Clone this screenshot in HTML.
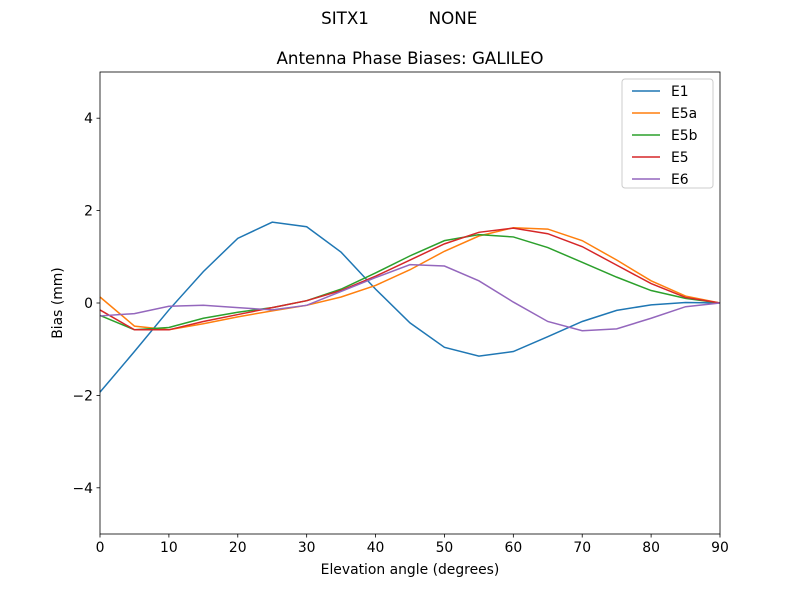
<!DOCTYPE html>
<html><head><meta charset="utf-8">
<style>
body{margin:0;background:#fff;}
svg text{font-family:"DejaVu Sans","Liberation Sans",sans-serif;fill:#000;}
</style></head>
<body>
<svg id="chart" width="800" height="600" xmlns="http://www.w3.org/2000/svg">
<rect width="800" height="600" fill="#fff"/>
<text x="345" y="24" text-anchor="middle" font-size="16.7">SITX1</text>
<text x="453" y="24" text-anchor="middle" font-size="16.7">NONE</text>
<text x="410" y="64" text-anchor="middle" font-size="16.7">Antenna Phase Biases: GALILEO</text>
<g id="plot"></g>
<text x="410" y="574" text-anchor="middle" font-size="13.9">Elevation angle (degrees)</text>
<text x="0" y="0" transform="translate(62,303) rotate(-90)" text-anchor="middle" font-size="13.9">Bias (mm)</text>
</svg>
<script>
const elev=[0,5,10,15,20,25,30,35,40,45,50,55,60,65,70,75,80,85,90];
const e1=[-1.93,-1.05,-0.15,0.68,1.4,1.75,1.65,1.1,0.3,-0.43,-0.96,-1.15,-1.05,-0.73,-0.4,-0.16,-0.04,0.01,0];
const e5a=[0.13,-0.5,-0.58,-0.45,-0.3,-0.17,-0.05,0.13,0.38,0.72,1.12,1.45,1.63,1.6,1.35,0.93,0.48,0.15,0];
const e5b=[-0.27,-0.58,-0.53,-0.33,-0.2,-0.1,0.05,0.3,0.65,1.02,1.35,1.48,1.43,1.2,0.88,0.56,0.27,0.1,0];
const e5=[-0.15,-0.58,-0.58,-0.4,-0.25,-0.1,0.05,0.27,0.58,0.93,1.28,1.53,1.62,1.5,1.22,0.82,0.42,0.12,0];
const e6=[-0.28,-0.23,-0.07,-0.05,-0.1,-0.15,-0.05,0.25,0.55,0.83,0.8,0.48,0.02,-0.4,-0.6,-0.56,-0.33,-0.08,0];
const seriesNames=["E1","E5a","E5b","E5","E6"];
const colors=["#1f77b4","#ff7f0e","#2ca02c","#d62728","#9467bd"];
const xTicks=[0,10,20,30,40,50,60,70,80,90];
const yTicks=[-4,-2,0,2,4];
const X0=100,X1=720,Y0=72,Y1=534;
const sx=v=>X0+(v-0)/90*(X1-X0);
const sy=v=>Y1-(v+5)/10*(Y1-Y0);
const NS="http://www.w3.org/2000/svg";
const g=document.getElementById('plot');
function mk(t,a){const e=document.createElementNS(NS,t);for(const k in a)e.setAttribute(k,a[k]);g.appendChild(e);return e;}
const all=[e1,e5a,e5b,e5,e6];
all.forEach((s,i)=>{
 const p=mk('polyline',{points:s.map((v,j)=>sx(elev[j])+','+sy(v)).join(' '),fill:'none',stroke:colors[i],'stroke-width':1.5});
 
 
});
const fr=mk('rect',{x:X0,y:Y0,width:X1-X0,height:Y1-Y0,fill:'none',stroke:'#000','stroke-width':0.8});


xTicks.forEach(t=>{
 const l=mk('line',{x1:sx(t),x2:sx(t),y1:Y1,y2:Y1+3.5,stroke:'#000','stroke-width':0.8});
 
 
 const tx=mk('text',{x:sx(t),y:Y1+18,'text-anchor':'middle','font-size':13.9});
 
 
 tx.textContent=t;
});
yTicks.forEach(t=>{
 const l=mk('line',{x1:X0-3.5,x2:X0,y1:sy(t),y2:sy(t),stroke:'#000','stroke-width':0.8});
 
 
 const tx=mk('text',{x:X0-7,y:sy(t)+5,'text-anchor':'end','font-size':13.9});
 
 
 tx.textContent=(t<0?'\u2212':'')+Math.abs(t);
});
const lg=mk('rect',{x:622,y:79,width:91,height:109,fill:'#fff',stroke:'#ccc',rx:3});


seriesNames.forEach((n,i)=>{
 const y=91+i*22;
 const l=mk('line',{x1:632,x2:660,y1:y,y2:y,stroke:colors[i],'stroke-width':1.5});
 
 
 const t=mk('text',{x:671,y:y+5,'font-size':13.9});
 
 
 t.textContent=n;
});
</script>
</body></html>
